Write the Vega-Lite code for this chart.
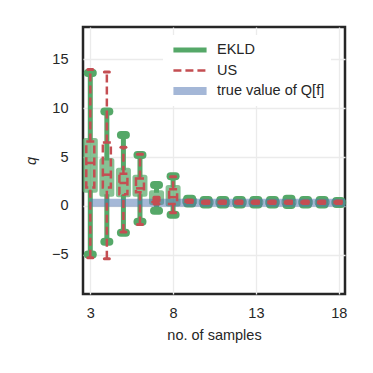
{
  "$schema": "https://vega.github.io/schema/vega-lite/v6.json",
  "autosize": {"type": "none"},
  "padding": {"left": 83, "top": 27, "right": 28, "bottom": 79},
  "width": 262,
  "height": 267,
  "background": "white",
  "config": {
    "font": "Liberation Sans",
    "view": {"stroke": "#262626", "strokeWidth": 2.5},
    "axis": {
      "grid": true, "gridColor": "#ebebeb", "gridWidth": 1.3,
      "ticks": false, "domain": false,
      "labelFont": "Liberation Sans", "labelFontSize": 14.5, "labelColor": "#262626",
      "titleFont": "Liberation Sans", "titleFontSize": 14.5, "titleFontWeight": "normal", "titleColor": "#262626"
    }
  },
  "datasets": {
    "ekld": [
      {"x": 3, "lo": -4.95, "q1": 1.6, "med": 4.2, "q3": 6.7, "hi": 13.6},
      {"x": 4, "lo": -3.65, "q1": 1.2, "med": 2.9, "q3": 4.65, "hi": 9.65},
      {"x": 5, "lo": -2.75, "q1": 1.15, "med": 2.4, "q3": 3.65, "hi": 7.25},
      {"x": 6, "lo": -1.6, "q1": 1.2, "med": 2.0, "q3": 2.95, "hi": 5.2},
      {"x": 7, "lo": -0.5, "q1": 0.35, "med": 0.7, "q3": 1.35, "hi": 2.15},
      {"x": 8, "lo": -0.9, "q1": 0.2, "med": 0.9, "q3": 1.9, "hi": 3.05},
      {"x": 9, "lo": 0.25, "q1": 0.4, "med": 0.5, "q3": 0.6, "hi": 0.75},
      {"x": 10, "lo": 0.15, "q1": 0.3, "med": 0.38, "q3": 0.45, "hi": 0.6},
      {"x": 11, "lo": 0.15, "q1": 0.3, "med": 0.38, "q3": 0.45, "hi": 0.6},
      {"x": 12, "lo": 0.15, "q1": 0.3, "med": 0.38, "q3": 0.45, "hi": 0.6},
      {"x": 13, "lo": 0.15, "q1": 0.3, "med": 0.38, "q3": 0.45, "hi": 0.6},
      {"x": 14, "lo": 0.15, "q1": 0.3, "med": 0.38, "q3": 0.45, "hi": 0.6},
      {"x": 15, "lo": 0.1, "q1": 0.3, "med": 0.4, "q3": 0.5, "hi": 0.75},
      {"x": 16, "lo": 0.15, "q1": 0.3, "med": 0.38, "q3": 0.45, "hi": 0.6},
      {"x": 17, "lo": 0.15, "q1": 0.3, "med": 0.38, "q3": 0.45, "hi": 0.6},
      {"x": 18, "lo": 0.2, "q1": 0.3, "med": 0.37, "q3": 0.42, "hi": 0.5}
    ],
    "us": [
      {"x": 3, "lo": -5.3, "q1": 1.9, "med": 4.4, "q3": 6.6, "hi": 13.95},
      {"x": 4, "lo": -5.4, "q1": 1.9, "med": 3.2, "q3": 6.5, "hi": 13.7},
      {"x": 5, "lo": -2.65, "q1": 1.2, "med": 2.35, "q3": 3.3, "hi": 6.0},
      {"x": 6, "lo": -1.9, "q1": 1.4, "med": 1.8, "q3": 2.8, "hi": 5.3},
      {"x": 7, "lo": 0.2, "q1": 0.4, "med": 0.55, "q3": 0.7, "hi": 0.9},
      {"x": 8, "lo": -0.7, "q1": 0.2, "med": 0.9, "q3": 1.7, "hi": 3.0},
      {"x": 9, "lo": 0.35, "q1": 0.42, "med": 0.5, "q3": 0.55, "hi": 0.6},
      {"x": 10, "lo": 0.25, "q1": 0.3, "med": 0.38, "q3": 0.42, "hi": 0.5},
      {"x": 11, "lo": 0.25, "q1": 0.3, "med": 0.38, "q3": 0.42, "hi": 0.5},
      {"x": 12, "lo": 0.25, "q1": 0.3, "med": 0.38, "q3": 0.42, "hi": 0.5},
      {"x": 13, "lo": 0.25, "q1": 0.3, "med": 0.38, "q3": 0.42, "hi": 0.5},
      {"x": 14, "lo": 0.25, "q1": 0.3, "med": 0.38, "q3": 0.42, "hi": 0.5},
      {"x": 15, "lo": 0.25, "q1": 0.3, "med": 0.38, "q3": 0.42, "hi": 0.5},
      {"x": 16, "lo": 0.25, "q1": 0.3, "med": 0.38, "q3": 0.42, "hi": 0.5},
      {"x": 17, "lo": 0.25, "q1": 0.3, "med": 0.38, "q3": 0.42, "hi": 0.5},
      {"x": 18, "lo": 0.25, "q1": 0.3, "med": 0.37, "q3": 0.42, "hi": 0.5}
    ],
    "truth": [
      {"x": 3, "x2": 18.4, "y": 0.34, "s": "true value of Q[f]"}
    ]
  },
  "encoding": {
    "x": {"type": "quantitative", "scale": {"domain": [2.56, 18.38], "nice": false, "zero": false},
          "axis": {"values": [3, 8, 13, 18], "title": "no. of samples", "labelPadding": 12, "titlePadding": 9}},
    "y": {"type": "quantitative", "scale": {"domain": [-9, 18.3], "nice": false, "zero": false},
          "axis": {"values": [-5, 0, 5, 10, 15], "title": "q", "titleFontStyle": "italic", "labelPadding": 15, "titlePadding": 13}}
  },
  "layer": [
    {"data": {"name": "ekld"}, "mark": {"type": "rule", "stroke": "#55a868", "strokeWidth": 5},
     "encoding": {"x": {"field": "x"}, "y": {"field": "lo"}, "y2": {"field": "q1"}}},
    {"data": {"name": "ekld"}, "mark": {"type": "rule", "stroke": "#55a868", "strokeWidth": 5},
     "encoding": {"x": {"field": "x"}, "y": {"field": "q3"}, "y2": {"field": "hi"}}},
    {"data": {"name": "ekld"}, "mark": {"type": "rect", "fill": "#55a868", "stroke": "#55a868", "strokeWidth": 5, "opacity": 0.7, "strokeJoin": "round", "xOffset": -5, "x2Offset": 5},
     "encoding": {"x": {"field": "x"}, "x2": {"field": "x"}, "y": {"field": "q1"}, "y2": {"field": "q3"}}},
    {"data": {"name": "ekld"}, "mark": {"type": "rule", "stroke": "#55a868", "strokeWidth": 8, "strokeCap": "round", "xOffset": -2.5, "x2Offset": 2.5},
     "encoding": {"x": {"field": "x"}, "x2": {"field": "x"}, "y": {"field": "lo"}}},
    {"data": {"name": "ekld"}, "mark": {"type": "rule", "stroke": "#55a868", "strokeWidth": 8, "strokeCap": "round", "xOffset": -2.5, "x2Offset": 2.5},
     "encoding": {"x": {"field": "x"}, "x2": {"field": "x"}, "y": {"field": "hi"}}},
    {"data": {"name": "truth"}, "mark": {"type": "rule"},
     "encoding": {
       "x": {"field": "x"}, "x2": {"field": "x2"}, "y": {"field": "y"},
       "color": {"field": "s", "type": "nominal",
         "scale": {"domain": ["EKLD", "US", "true value of Q[f]"], "range": ["#55a868", "#c44e52", "#4c72b0"]},
         "legend": {"title": null, "orient": "none", "legendX": 80, "legendY": 8, "symbolType": "stroke", "symbolSize": 1100,
                    "labelFontSize": 14.5, "labelFont": "Liberation Sans", "labelColor": "#262626", "labelOffset": 6,
                    "rowPadding": 2.5, "padding": 6, "fillColor": "white", "clipHeight": 18}},
       "strokeDash": {"field": "s", "type": "nominal",
         "scale": {"type": "ordinal", "domain": ["EKLD", "US", "true value of Q[f]"], "range": [[1, 0], [8, 4], [1, 0]]}},
       "strokeWidth": {"field": "s", "type": "nominal",
         "scale": {"type": "ordinal", "domain": ["EKLD", "US", "true value of Q[f]"], "range": [5, 2.5, 8]}},
       "opacity": {"field": "s", "type": "nominal",
         "scale": {"type": "ordinal", "domain": ["EKLD", "US", "true value of Q[f]"], "range": [1, 1, 0.5]}}
     }},
    {"data": {"name": "us"}, "mark": {"type": "rule", "stroke": "#c44e52", "strokeWidth": 2.5, "strokeDash": [8, 4]},
     "encoding": {"x": {"field": "x"}, "y": {"field": "lo"}, "y2": {"field": "q1"}}},
    {"data": {"name": "us"}, "mark": {"type": "rule", "stroke": "#c44e52", "strokeWidth": 2.5, "strokeDash": [8, 4]},
     "encoding": {"x": {"field": "x"}, "y": {"field": "q3"}, "y2": {"field": "hi"}}},
    {"data": {"name": "us"}, "mark": {"type": "rect", "fillOpacity": 0, "stroke": "#c44e52", "strokeWidth": 2.5, "strokeDash": [8, 4], "xOffset": -4, "x2Offset": 4},
     "encoding": {"x": {"field": "x"}, "x2": {"field": "x"}, "y": {"field": "q1"}, "y2": {"field": "q3"}}},
    {"data": {"name": "us"}, "mark": {"type": "rule", "stroke": "#c44e52", "strokeWidth": 2.5, "xOffset": -4, "x2Offset": 4},
     "encoding": {"x": {"field": "x"}, "x2": {"field": "x"}, "y": {"field": "med"}}},
    {"data": {"name": "us"}, "mark": {"type": "rule", "stroke": "#c44e52", "strokeWidth": 3, "strokeCap": "round", "xOffset": -2.5, "x2Offset": 2.5},
     "encoding": {"x": {"field": "x"}, "x2": {"field": "x"}, "y": {"field": "lo"}}},
    {"data": {"name": "us"}, "mark": {"type": "rule", "stroke": "#c44e52", "strokeWidth": 3, "strokeCap": "round", "xOffset": -2.5, "x2Offset": 2.5},
     "encoding": {"x": {"field": "x"}, "x2": {"field": "x"}, "y": {"field": "hi"}}}
  ]
}
